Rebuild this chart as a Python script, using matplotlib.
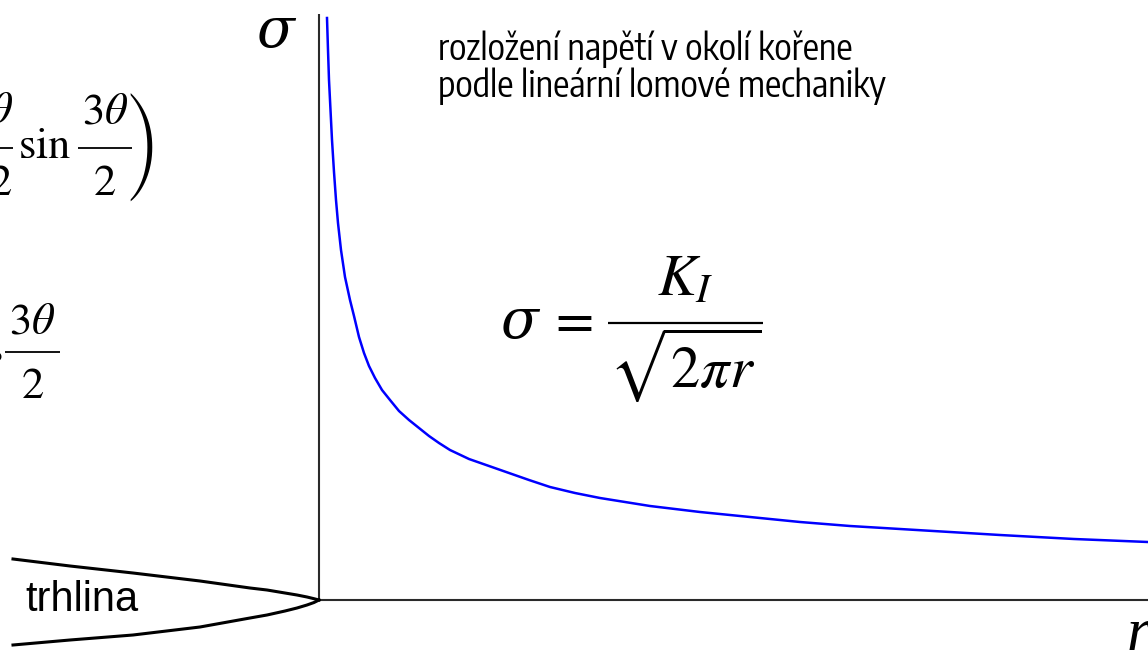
import matplotlib
matplotlib.use("Agg")
import matplotlib.pyplot as plt
from matplotlib import font_manager
from matplotlib.textpath import TextPath

plt.rcParams['mathtext.fontset'] = 'stix'
plt.rcParams['font.family'] = ['Liberation Sans', 'DejaVu Sans']

# stress near the crack tip: distance r from the tip, stress sigma (drawing units)
r = [8, 9, 10, 11, 13, 15, 17, 19, 22, 26, 31, 35, 40, 45, 50, 56, 63, 71,
     80, 90, 100, 110, 120, 131, 150, 170, 190, 210, 231, 256, 281, 306,
     331, 381, 431, 481, 531, 581, 631, 681, 755, 829]
sigma = [582, 550, 520, 500, 460, 428, 400, 377, 350, 323, 300, 284, 263, 247,
         234, 222, 210, 200, 189, 180, 172, 164, 157, 150, 141, 134, 127, 120,
         113, 107, 102, 98, 94, 88, 83, 78, 74, 71, 68, 65, 61, 58]

# crack faces, tip at the origin
crack_x = [-306, -249, -186, -119, -69, -52, -34, -22, -12, -5, 0]
crack_upper = [41, 34, 27, 19, 12, 10, 7, 5, 3, 1.3, 0]
crack_lower = [-45, -40, -35, -27, -18, -15, -11, -8, -5, -2.5, 0]

title_lines = ['rozložení napětí v okolí kořene',
               'podle lineární lomové mechaniky']


def narrow_sans(text, width_px, aspect):
    # narrowest-looking installed sans face: text width / ascender close to aspect,
    # sized so the line is width_px wide
    best = None
    for f in font_manager.fontManager.ttflist:
        name = f.name
        if any(k in name for k in ('Mono', 'CJK', 'Serif', 'STIX', 'cm')):
            continue
        if f.style != 'normal' or str(f.weight) not in ('400', 'normal', 'regular'):
            continue
        if not any(k in name for k in ('Sans', 'Roboto', 'Lato', 'Inter', 'Arial')):
            continue
        prop = font_manager.FontProperties(fname=f.fname, size=10)
        try:
            w = TextPath((0, 0), text, prop=prop).get_extents().width
            h = TextPath((0, 0), 'l', prop=prop).get_extents().height
        except Exception:
            continue
        score = abs(w / h - aspect)
        if best is None or score < best[0]:
            best = (score, f.fname, w)
    if best is None:
        return font_manager.FontProperties(family='Liberation Sans', size=23)
    size = width_px * 10 * 72 / (100 * best[2])
    return font_manager.FontProperties(fname=best[1], size=size)


fig = plt.figure(figsize=(11.48, 6.55), dpi=100)
ax = fig.add_axes([0, 0, 1, 1])
ax.set_xlim(-319, 829)
ax.set_ylim(-55, 600)
ax.axis('off')

# axes through the crack tip
ax.plot([0, 0], [0, 586], color='#2a2a2a', lw=1.5, solid_capstyle='butt')
ax.plot([0, 829], [0, 0], color='#2a2a2a', lw=1.5, solid_capstyle='butt')

ax.plot(r, sigma, color='#0000ff', lw=1.8)

ax.plot(crack_x, crack_upper, color='black', lw=2.2)
ax.plot(crack_x, crack_lower, color='black', lw=2.2)

ax.text(-294, -11, 'trhlina', fontsize=30, ha='left', va='baseline')

title_font = narrow_sans(title_lines[0], 412, 13.7)
ax.text(119, 540, title_lines[0], fontproperties=title_font,
        ha='left', va='baseline')
ax.text(119, 503, title_lines[1], fontproperties=title_font,
        ha='left', va='baseline')

serif = ['DejaVu Serif', 'Liberation Serif']
ax.text(-44, 553, 'σ', fontsize=40, family=serif, style='italic',
        ha='center', va='baseline')
ax.text(808, -50, 'r', fontsize=44, family=['Liberation Serif'], style='italic',
        ha='left', va='baseline')


def fraction(x0, x1, ybar, num, den, size, num_gap, den_drop, lw=1.3):
    xc = (x0 + x1) / 2
    ax.plot([x0, x1], [ybar, ybar], color='black', lw=lw,
            solid_capstyle='butt')
    ax.text(xc, ybar + num_gap, num, fontsize=size, ha='center',
            va='baseline')
    ax.text(xc, ybar - den_drop, den, fontsize=size, ha='center',
            va='baseline')


# sigma = K_I / sqrt(2 pi r)
ax.text(181, 262, 'σ', fontsize=40, family=serif, style='italic',
        ha='left', va='baseline')
ax.text(228, 278, r'$=$', fontsize=40, ha='left', va='center')
fraction(289, 444, 277, r'$K_I$', r'$\sqrt{2\pi r}$', 42, 28, 64, lw=1.6)

# Williams expansion terms, running off the left edge
fraction(-331, -306, 452, r'$\theta$', r'$2$', 32, 25, 47)
ax.text(-301, 442, r'$\mathrm{sin}$', fontsize=32, ha='left', va='baseline')
fraction(-241, -187, 452, r'$3\theta$', r'$2$', 32, 25, 47)
ax.text(-176, 452, ')', fontsize=32, family='STIXSizeThreeSym',
        ha='center', va='center')

ax.text(-316, 238, r'$\mathrm{cos}$', fontsize=32, ha='right', va='baseline')
fraction(-314, -259, 248, r'$3\theta$', r'$2$', 32, 19, 46)

fig.savefig('out.png', dpi=100)
